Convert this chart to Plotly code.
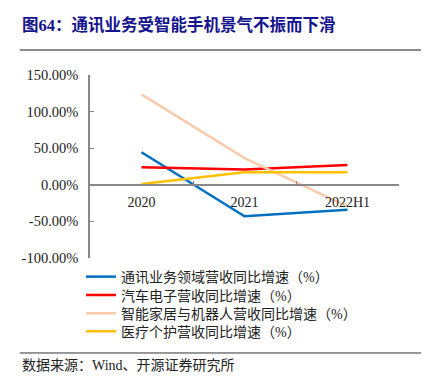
import plotly.graph_objects as go

categories = ["2020", "2021", "2022H1"]
comm = [44.5, -43.0, -34.0]
auto = [24.0, 21.0, 27.0]
home = [123.5, 36.5, -29.5]
medical = [1.0, 17.0, 17.0]

series_names = [
    "通讯业务领域营收同比增速（%）",
    "汽车电子营收同比增速（%）",
    "智能家居与机器人营收同比增速（%）",
    "医疗个护营收同比增速（%）",
]
colors = ["#0070C0", "#FF0000", "#F8CBAD", "#FFC000"]
y_ticks = [-100, -50, 0, 50, 100, 150]
y_tick_text = [f"{v:.2f}%" for v in y_ticks]

FONT = "Liberation Serif, Noto Sans CJK SC, serif"
legend_ids = ["legend", "legend2", "legend3", "legend4"]
legend_y = [-0.104, -0.205, -0.304, -0.403]

fig = go.Figure()
for name, vals, col, lid in zip(series_names, [comm, auto, home, medical], colors, legend_ids):
    fig.add_trace(go.Scatter(
        x=categories, y=vals, name=name, mode="lines",
        line=dict(color=col, width=2.5), legend=lid,
    ))

legend_common = dict(
    xanchor="left", yanchor="middle",
    font=dict(size=14, color="#222222", family=FONT),
    itemwidth=30, bgcolor="rgba(0,0,0,0)",
)
legends = {lid: dict(x=-0.029, y=ly, **legend_common) for lid, ly in zip(legend_ids, legend_y)}

ymin, ymax = -100, 150
fig.update_layout(
    width=429, height=386,
    margin=dict(l=82, r=38, t=67, b=136, autoexpand=False),
    paper_bgcolor="white", plot_bgcolor="white",
    font=dict(family=FONT, color="#222222", size=13),
    showlegend=True,
    **legends,
    xaxis=dict(
        type="category", range=[-0.5, 2.5],
        anchor="free", position=(0 - ymin) / (ymax - ymin),
        showline=True, linecolor="#888888", linewidth=1.5,
        ticks="inside", ticklen=3, tickcolor="#888888", tickson="boundaries",
        showgrid=False, zeroline=False, ticklabelstandoff=5,
        tickfont=dict(size=14, family=FONT, color="#222222"),
    ),
    yaxis=dict(
        range=[ymin, ymax], tickvals=y_ticks, ticktext=y_tick_text,
        showline=True, linecolor="#888888", linewidth=1.5,
        ticks="inside", ticklen=4, tickcolor="#888888",
        showgrid=False, zeroline=False, ticklabelstandoff=7,
        tickfont=dict(size=14.5, family=FONT, color="#222222"),
    ),
    annotations=[
        dict(text="<b>图64：通讯业务受智能手机景气不振而下滑</b>", xref="paper", yref="paper",
             x=-0.227, y=1.272, xanchor="left", yanchor="middle", showarrow=False,
             font=dict(size=16.5, color="#14148C", family=FONT)),
        dict(text="数据来源：Wind、开源证券研究所", xref="paper", yref="paper",
             x=-0.227, y=-0.585, xanchor="left", yanchor="middle", showarrow=False,
             font=dict(size=14, color="#222222", family=FONT)),
    ],
    shapes=[
        dict(type="line", xref="paper", yref="paper", x0=-0.227, x1=1.15, y0=1.137, y1=1.137,
             line=dict(color="#8c8c8c", width=2)),
        dict(type="line", xref="paper", yref="paper", x0=-0.227, x1=1.15, y0=-0.519, y1=-0.519,
             line=dict(color="#333333", width=1)),
    ],
)

fig.write_html("out.html")
